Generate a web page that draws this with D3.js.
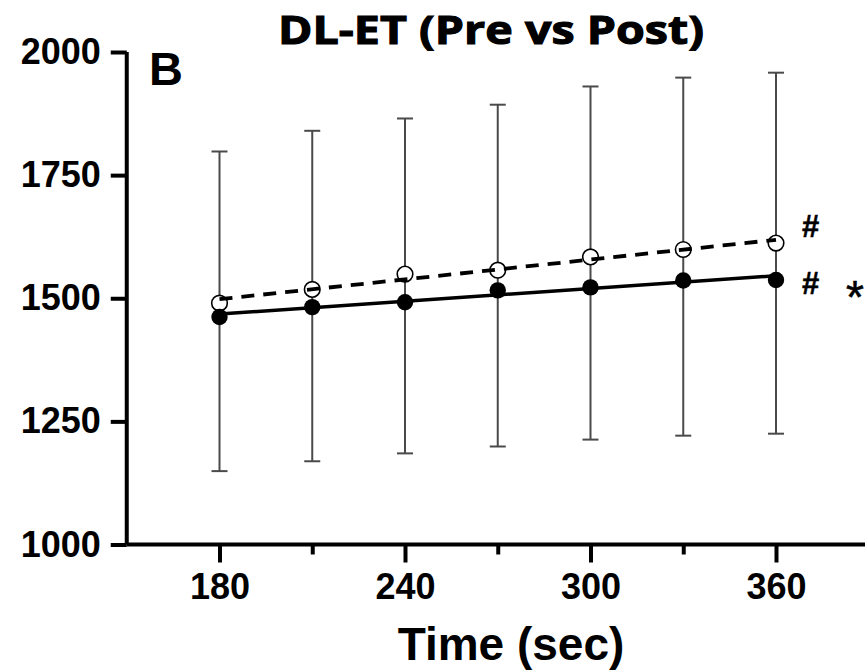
<!DOCTYPE html>
<html>
<head>
<meta charset="utf-8">
<script src="https://cdn.jsdelivr.net/npm/d3@7/dist/d3.min.js"></script>
<style>
  html, body { margin: 0; padding: 0; background: #fff; }
  svg { display: block; }
</style>
</head>
<body>
<svg id="chart" width="865" height="671"></svg>
<script>
// ---- data ----
const times      = [180, 210, 240, 270, 300, 330, 360];
const preMeans   = [1490, 1518, 1549, 1557, 1584, 1599, 1612];   // open circles, dashed fit
const postMeans  = [1462, 1482, 1492, 1516, 1522, 1536, 1537];   // filled circles, solid fit
const errUpper   = [1798, 1840, 1865, 1893, 1930, 1948, 1958];
const errLower   = [1149, 1169, 1185, 1199, 1213, 1221, 1225];
const yTicks     = [1000, 1250, 1500, 1750, 2000];
const xMajorTicks = [180, 240, 300, 360];
const xMinorTicks = [210, 270, 330];
const titleText  = "DL-ET (Pre vs Post)";
const panelLabel = "B";
const xLabel     = "Time (sec)";
const preMark    = "#";
const postMarks  = ["#", "*"];

// ---- layout ----
const svg = d3.select("#chart");
const x = d3.scaleLinear().domain([150, 390]).range([126.75, 868.75]);
const y = d3.scaleLinear().domain([1000, 2000]).range([544.5, 52]);

function fit(xs, ys) {
  const mx = d3.mean(xs), my = d3.mean(ys);
  const sxy = d3.sum(xs, (v, i) => (v - mx) * (ys[i] - my));
  const sxx = d3.sum(xs, v => (v - mx) * (v - mx));
  const b = sxy / sxx;
  const a = my - b * mx;
  return t => a + b * t;
}
const preFit = fit(times, preMeans);
const postFit = fit(times, postMeans);
const fitRange = d3.extent(times);

// title
svg.append("text")
  .attr("x", 491).attr("y", 44)
  .attr("text-anchor", "middle")
  .attr("font-family", "'Open Sans', 'Noto Sans', sans-serif")
  .attr("font-weight", 700)
  .attr("font-size", 40)
  .attr("stroke", "#000").attr("stroke-width", 1.1)
  .attr("textLength", 426)
  .attr("lengthAdjust", "spacingAndGlyphs")
  .text(titleText);

// panel label
svg.append("text")
  .attr("x", 149).attr("y", 85)
  .attr("font-family", "'Liberation Sans', Arial, sans-serif")
  .attr("font-weight", 700)
  .attr("font-size", 47)
  .text(panelLabel);

// error bars
const capW = 16;
const eb = svg.append("g").attr("stroke", "#4a4a4a").attr("stroke-width", 2).attr("fill", "none");
times.forEach((t, i) => {
  eb.append("line").attr("x1", x(t)).attr("x2", x(t)).attr("y1", y(errUpper[i])).attr("y2", y(errLower[i]));
  eb.append("line").attr("x1", x(t) - capW / 2).attr("x2", x(t) + capW / 2).attr("y1", y(errUpper[i])).attr("y2", y(errUpper[i]));
  eb.append("line").attr("x1", x(t) - capW / 2).attr("x2", x(t) + capW / 2).attr("y1", y(errLower[i])).attr("y2", y(errLower[i]));
});

// markers
svg.append("g").selectAll("circle").data(times).join("circle")
  .attr("cx", d => x(d)).attr("cy", (d, i) => y(preMeans[i]))
  .attr("r", 7.8).attr("fill", "#fff").attr("stroke", "#000").attr("stroke-width", 1.6);
svg.append("g").selectAll("circle").data(times).join("circle")
  .attr("cx", d => x(d)).attr("cy", (d, i) => y(postMeans[i]))
  .attr("r", 8.2).attr("fill", "#000");

// fit lines
const line = d3.line().x(d => x(d[0])).y(d => y(d[1]));
svg.append("path")
  .attr("d", line(fitRange.map(t => [t, postFit(t)])))
  .attr("fill", "none").attr("stroke", "#000").attr("stroke-width", 3.5);
svg.append("path")
  .attr("d", line(fitRange.map(t => [t, preFit(t)])))
  .attr("fill", "none").attr("stroke", "#000").attr("stroke-width", 3.8)
  .attr("stroke-dasharray", "13,9");

// significance marks
const markFont = "'Liberation Sans', Arial, sans-serif";
const lastT = times[times.length - 1];
svg.append("text")
  .attr("x", x(lastT) + 26).attr("y", y(preMeans[preMeans.length - 1]) - 6)
  .attr("font-family", markFont).attr("font-size", 31).attr("font-weight", 700)
  .attr("stroke", "#000").attr("stroke-width", 0.5)
  .text(preMark);
svg.append("text")
  .attr("x", x(lastT) + 26).attr("y", y(postMeans[postMeans.length - 1]) + 14)
  .attr("font-family", markFont).attr("font-size", 31).attr("font-weight", 700)
  .attr("stroke", "#000").attr("stroke-width", 0.5)
  .text(postMarks[0]);
svg.append("text")
  .attr("x", x(lastT) + 70).attr("y", y(postMeans[postMeans.length - 1]) + 33)
  .attr("font-family", markFont).attr("font-size", 46).attr("font-weight", 400)
  .attr("stroke", "#000").attr("stroke-width", 0.6)
  .text(postMarks[1]);

// axes
const tickFont = "'Liberation Sans', Arial, sans-serif";
const yAxis = svg.append("g").attr("transform", `translate(${x(150)},0)`)
  .call(d3.axisLeft(y).tickValues(yTicks).tickSize(16).tickPadding(10).tickFormat(d3.format("d")));
const xAxis = svg.append("g").attr("transform", `translate(0,${y(1000)})`)
  .call(d3.axisBottom(x).tickValues(xMajorTicks).tickSize(18).tickPadding(11).tickFormat(d3.format("d")));
const xMinor = svg.append("g").attr("transform", `translate(0,${y(1000)})`)
  .call(d3.axisBottom(x).tickValues(xMinorTicks).tickSize(10).tickFormat(""));
xMinor.select(".domain").remove();

[yAxis, xAxis, xMinor].forEach(g => {
  g.select(".domain").attr("stroke", "#000").attr("stroke-width", 4);
  g.selectAll(".tick line").attr("stroke", "#000").attr("stroke-width", 4);
  g.selectAll(".tick text")
    .attr("font-family", tickFont).attr("font-weight", 700).attr("font-size", 36).attr("fill", "#000");
});
yAxis.select(".domain").attr("d", `M0,${y(2000)}V${y(1000)}`);
xAxis.select(".domain").attr("d", `M${x(150)},0H${x(390)}`);

// x label
svg.append("text")
  .attr("x", 511).attr("y", 660)
  .attr("text-anchor", "middle")
  .attr("font-family", tickFont).attr("font-weight", 700).attr("font-size", 46)
  .text(xLabel);
</script>
</body>
</html>
